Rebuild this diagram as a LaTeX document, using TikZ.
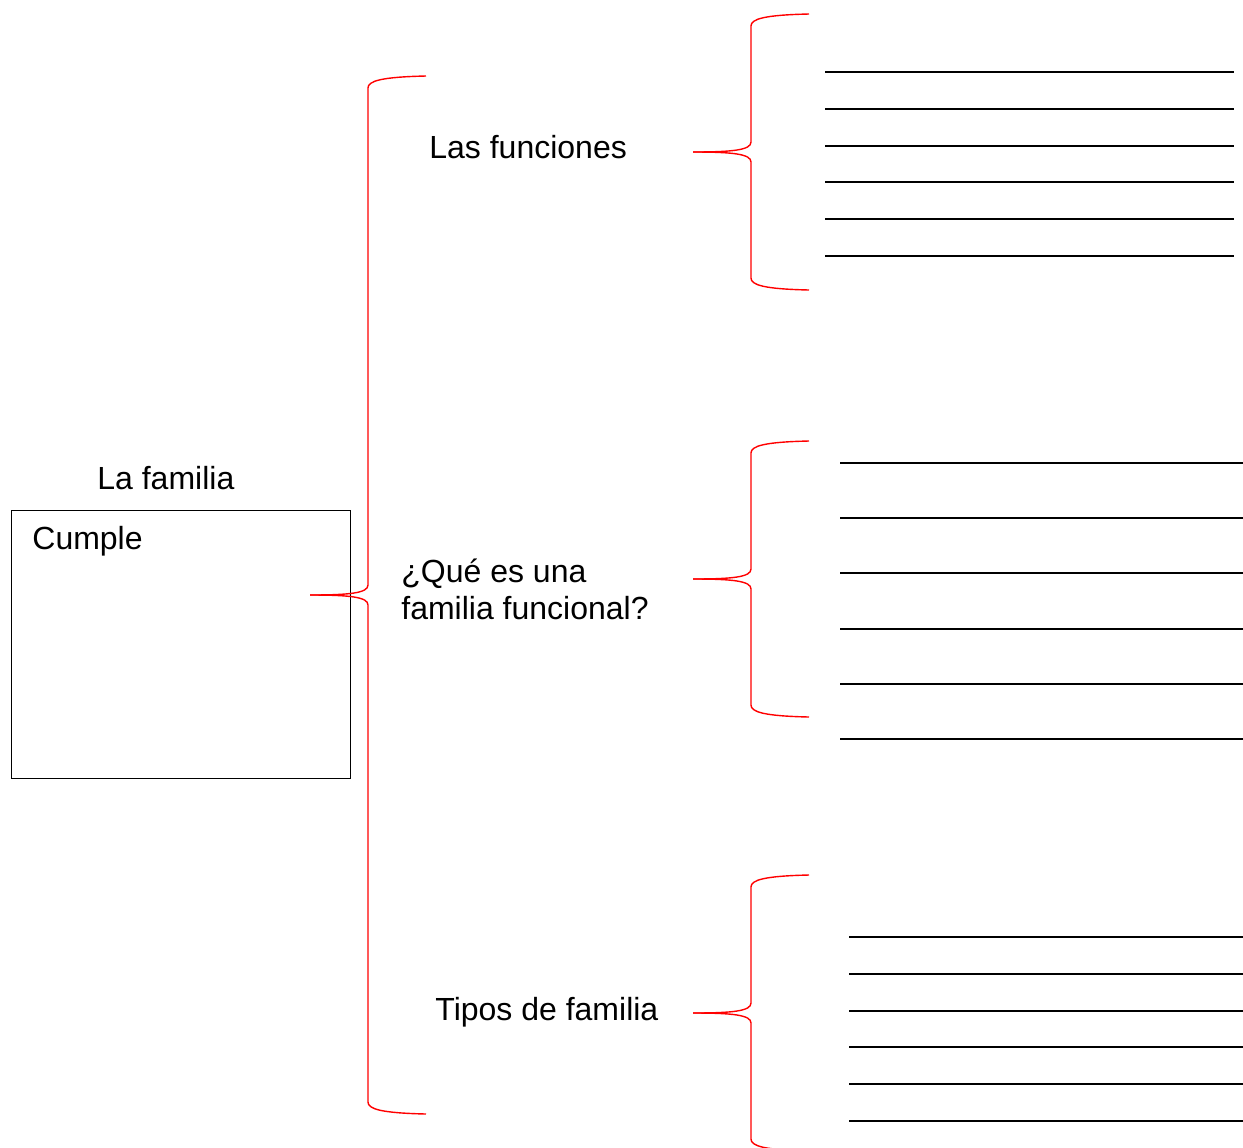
\documentclass[tikz,border=0pt]{standalone}
\usepackage{fontspec}
\setmainfont{Liberation Sans}
\tikzset{
  llave/.style={red,line width=0.7pt},
  raya/.style={line width=1pt},
  texto/.style={anchor=base west,inner sep=0pt,align=left,font=\fontsize{16}{18.5}\selectfont}
}
% left brace with its tip at #1 and half height #2
\newcommand{\dibujallave}[2]{%
  \draw[llave] (#1) .. controls +(40,0) and +(0,8) .. ++(58,-10) -- ++(0,{-(#2-22)})
    .. controls +(0,-7) and +(-45,1) .. ++(58,-12);
  \draw[llave] (#1) .. controls +(40,0) and +(0,-8) .. ++(58,10) -- ++(0,{#2-22})
    .. controls +(0,7) and +(-45,-1) .. ++(58,12);}
\begin{document}
\begin{tikzpicture}[x=0.5pt,y=-0.5pt]
\useasboundingbox (0,0) rectangle (1243,1147);
\clip (0,0) rectangle (1243,1147);
\node[draw,line width=0.5pt,minimum width=169.5pt,minimum height=134pt,inner sep=0pt] (caja) at (180.5,644) {};
\node[texto] (familia) at (97,489) {La familia};
\node[texto] (cumple) at (32,549) {Cumple};
\node[texto] (funciones) at (429,158) {Las funciones};
\node[texto] (quees) at (401,619) {¿Qué es una\\familia funcional?};
\node[texto] (tipos) at (435,1020) {Tipos de familia};
\coordinate (punta) at (310,595);
\coordinate (punta1) at (693,152);
\coordinate (punta2) at (693,579);
\coordinate (punta3) at (693,1013);
\dibujallave{punta}{519}
\dibujallave{punta1}{138}
\dibujallave{punta2}{138}
\dibujallave{punta3}{138}
\foreach \i in {0,...,5}{
  \draw[raya] (825,72+36.8*\i) -- (1234,72+36.8*\i);
  \draw[raya] (840,463+55.2*\i) -- (1243,463+55.2*\i);
  \draw[raya] (849,937+36.8*\i) -- (1243,937+36.8*\i);
}
\end{tikzpicture}
\end{document}
